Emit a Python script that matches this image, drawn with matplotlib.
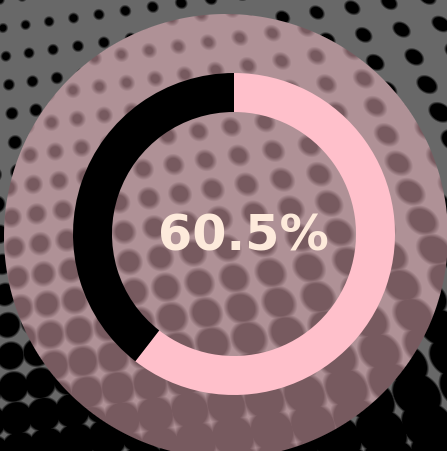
import numpy as np
import matplotlib
matplotlib.use("Agg")
import matplotlib.pyplot as plt

# ---- data ----
categories = ["Progress", "Remaining"]
values = [60.5, 39.5]
label_text = "60.5%"

# ---- styles ----
ring_colors = ["#FFC0CB", "#000000"]
W, H = 447, 451
DPI = 100


def halftone(phase_u, phase_v, blur):
    yy, xx = np.mgrid[0:H, 0:W].astype(float) + 0.5
    drow = np.array([np.cos(np.deg2rad(8)), -np.sin(np.deg2rad(8))])
    dcol = np.array([np.sin(np.deg2rad(6)), np.cos(np.deg2rad(6))])
    M = np.array([[drow[0], dcol[0]], [drow[1], dcol[1]]])
    Mi = np.linalg.inv(M)
    up = Mi[0, 0] * xx + Mi[0, 1] * yy
    vp = Mi[1, 0] * xx + Mi[1, 1] * yy
    a, b, c = 0.0017, 0.0007, 0.0003
    s0u, s0v = 22.0, 28.0
    U = np.log1p(a * up) / (a * s0u * (1 + b * vp))
    V = np.log1p(c * vp) / (c * s0v)
    sx = s0u * (1 + a * up) * (1 + b * vp)
    sy = s0v * (1 + c * vp)
    du = (U + phase_u) - np.round(U + phase_u)
    dv = (V + phase_v) - np.round(V + phase_v)
    dist = np.hypot(du * sx, dv * sy)
    f = 0.16 + 0.46 * np.clip(yy / 450.0, 0, 1) ** 1.5 + 0.07 * xx / 447.0
    r = f * np.sqrt(sx * sy)
    return np.clip((dist - r) / blur + 0.5, 0, 1), xx, yy


gray = 0.41
val_out, xx, yy = halftone(0.0, 0.0, 2.6)
val_in, _, _ = halftone(0.45, 0.5, 5.0)
bg_out = np.repeat((gray * val_out)[..., None], 3, axis=2)
bg_in = np.repeat((gray * val_in)[..., None], 3, axis=2)
pink = np.array([255, 192, 203]) / 255.0
alpha = 0.47
inside = bg_in * (1 - alpha) + pink * alpha
cx, cy, R = 226.0, 236.0, 222.0
cov = np.clip(R - np.hypot(xx - cx, yy - cy) + 0.5, 0, 1)[..., None]
img = cov * inside + (1 - cov) * bg_out

fig = plt.figure(figsize=(W / DPI, H / DPI), dpi=DPI)
ax = fig.add_axes([0, 0, 1, 1])
ax.imshow(img, extent=(0, W, 0, H), origin="upper", aspect="auto", zorder=0,
          interpolation="bilinear")

dcx, dcy = 234.0, H - 234.0
ax.pie(values, colors=ring_colors, startangle=90, counterclock=False,
       center=(dcx, dcy), radius=161,
       wedgeprops=dict(width=39, linewidth=0, edgecolor="none", antialiased=True),
       frame=True)
ax.text(243, H - 250.5, label_text, ha="center", va="baseline",
        fontsize=35.5, fontweight="bold", color="#FDEADB",
        family=["DejaVu Sans"], zorder=5)

ax.set_xlim(0, W)
ax.set_ylim(0, H)
ax.set_aspect("auto")
ax.set_position([0, 0, 1, 1])
ax.axis("off")
fig.savefig("out.png", dpi=DPI)
